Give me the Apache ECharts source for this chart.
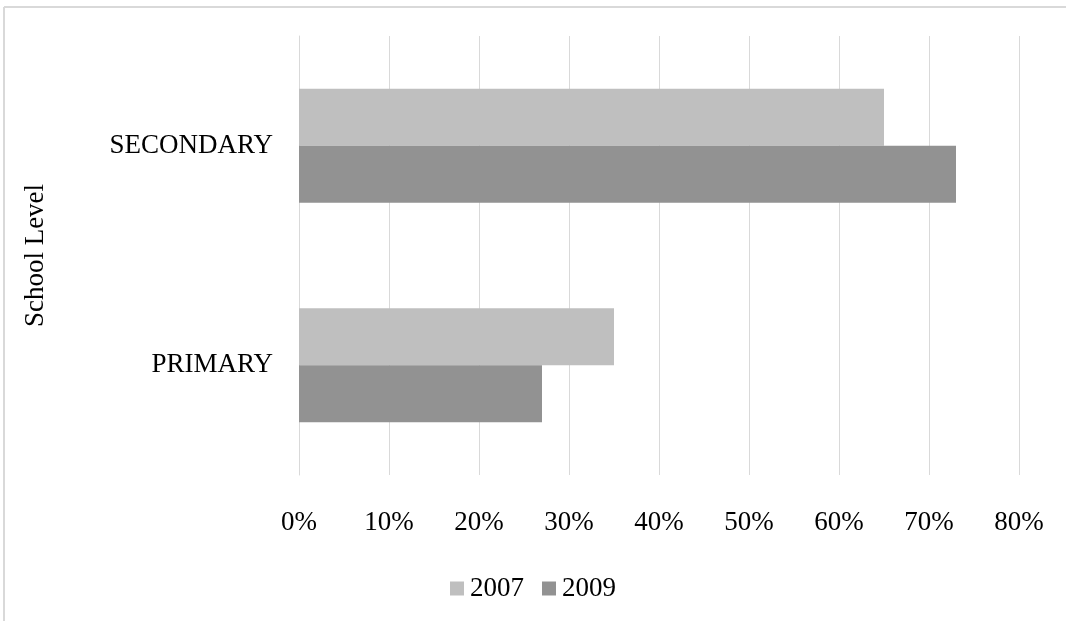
<!DOCTYPE html>
<html>
<head>
<meta charset="utf-8">
<script src="https://cdn.jsdelivr.net/npm/echarts@6/dist/echarts.min.js"></script>
<style>
  html, body { margin: 0; padding: 0; background: #fff; }
  #chart { width: 1066px; height: 621px; }
</style>
</head>
<body>
<div id="chart"></div>
<script>
// School levels, bottom to top on the category axis
const categories = ['PRIMARY', 'SECONDARY'];
// Share of girls per level (%)
const values2007 = [35, 65];
const values2009 = [27, 73];
const seriesNames = ['2007', '2009'];
const xTicks = [0, 10, 20, 30, 40, 50, 60, 70, 80];

const serif = '"Liberation Serif", "DejaVu Serif", serif';
const chart = echarts.init(document.getElementById('chart'));

chart.setOption({
  animation: false,
  backgroundColor: '#fff',
  color: ['#BFBFBF', '#929292'],
  graphic: [
    // heading, mostly above the visible area
    { type: 'text', x: 533, y: 1, style: {
        text: "Figure 10: Girls' drop out during school level",
        font: 'bold 28px ' + serif, fill: '#000',
        align: 'center', verticalAlign: 'bottom' }, silent: true },
    // chart-area frame
    { type: 'line', shape: { x1: 4, y1: 7, x2: 1066, y2: 7 }, style: { stroke: '#D9D9D9', lineWidth: 2 }, silent: true },
    { type: 'line', shape: { x1: 4, y1: 7, x2: 4, y2: 621 }, style: { stroke: '#D9D9D9', lineWidth: 2 }, silent: true }
  ],
  grid: { left: 299, right: 47, top: 36, height: 439, containLabel: false },
  legend: {
    bottom: 14,
    left: 'center',
    itemWidth: 14, itemHeight: 14, itemGap: 18,
    icon: 'rect',
    textStyle: { fontFamily: serif, fontSize: 27, color: '#000', padding: [0, 0, 0, 1] },
    data: seriesNames
  },
  xAxis: {
    type: 'value',
    min: 0, max: 80, interval: 10,
    axisLine: { show: false },
    axisTick: { show: false },
    splitLine: { show: true, lineStyle: { color: '#D9D9D9', width: 1 } },
    axisLabel: {
      formatter: v => xTicks.includes(v) ? v + '%' : '',
      fontFamily: serif, fontSize: 27, color: '#000', margin: 34
    }
  },
  yAxis: {
    type: 'category',
    data: categories,
    name: 'School Level',
    nameLocation: 'middle',
    nameGap: 250,
    nameRotate: 90,
    nameTextStyle: { fontFamily: serif, fontSize: 27, color: '#000' },
    axisLine: { show: true, lineStyle: { color: '#D9D9D9' } },
    axisTick: { show: false },
    axisLabel: { fontFamily: serif, fontSize: 27, color: '#000', margin: 26 }
  },
  series: [
    { name: seriesNames[0], type: 'bar', data: values2007, barGap: '0%', barCategoryGap: '48%' },
    { name: seriesNames[1], type: 'bar', data: values2009, barGap: '0%', barCategoryGap: '48%' }
  ]
});
</script>
</body>
</html>
